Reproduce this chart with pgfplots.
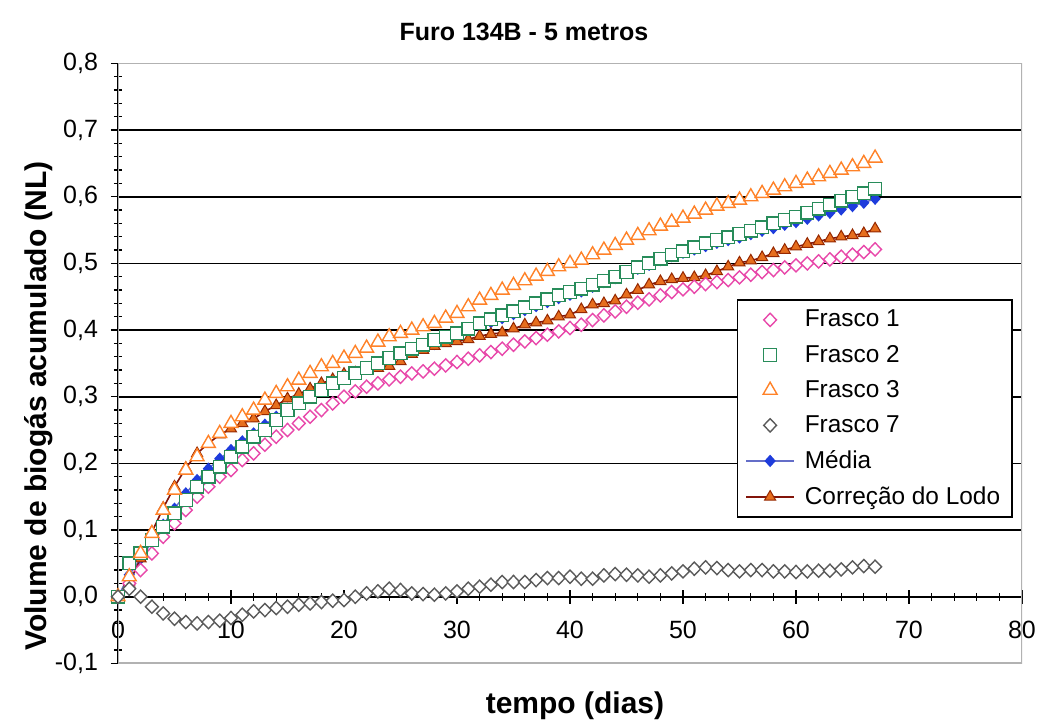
\documentclass[border=0pt]{standalone}
\usepackage{graphicx}
\usepackage{fontspec}
\setmainfont{Liberation Sans}
\usepackage{pgfplots}
\usepackage{pgfplotstable}
\pgfplotsset{compat=1.18}
\definecolor{pinkc}{RGB}{232,72,170}
\definecolor{greenc}{RGB}{40,140,90}
\definecolor{orangec}{RGB}{255,130,40}
\definecolor{grayc}{RGB}{90,90,90}
\definecolor{medmark}{RGB}{30,60,220}
\definecolor{medline}{RGB}{100,110,200}
\definecolor{corline}{RGB}{130,20,10}
\definecolor{cordraw}{RGB}{150,40,0}
\definecolor{corfill}{RGB}{230,110,30}
\pgfplotstableread{
d f1 f2 f3 f7 m c
0 0 0 0 0 0 0
1 0.020 0.050 0.030 0.012 0.033 0.021
2 0.040 0.065 0.065 0.000 0.057 0.057
3 0.065 0.085 0.095 -0.015 0.082 0.097
4 0.090 0.105 0.130 -0.025 0.108 0.133
5 0.110 0.125 0.160 -0.033 0.132 0.165
6 0.130 0.145 0.190 -0.038 0.155 0.193
7 0.150 0.165 0.210 -0.040 0.175 0.215
8 0.165 0.180 0.230 -0.038 0.192 0.230
9 0.180 0.195 0.245 -0.036 0.207 0.243
10 0.190 0.210 0.260 -0.032 0.220 0.252
11 0.205 0.225 0.270 -0.027 0.233 0.260
12 0.215 0.240 0.280 -0.022 0.245 0.267
13 0.228 0.250 0.295 -0.020 0.258 0.278
14 0.240 0.265 0.305 -0.017 0.270 0.287
15 0.250 0.280 0.315 -0.015 0.282 0.297
16 0.260 0.290 0.325 -0.012 0.292 0.304
17 0.270 0.300 0.335 -0.010 0.302 0.312
18 0.280 0.310 0.345 -0.008 0.312 0.320
19 0.290 0.320 0.350 -0.006 0.320 0.326
20 0.300 0.328 0.358 -0.005 0.329 0.334
21 0.308 0.335 0.365 0.000 0.336 0.336
22 0.315 0.343 0.373 0.005 0.344 0.339
23 0.320 0.350 0.382 0.008 0.351 0.343
24 0.326 0.358 0.390 0.012 0.358 0.346
25 0.330 0.365 0.395 0.010 0.363 0.353
26 0.335 0.372 0.400 0.005 0.369 0.364
27 0.338 0.378 0.405 0.004 0.374 0.370
28 0.342 0.385 0.410 0.003 0.379 0.376
29 0.347 0.390 0.418 0.005 0.385 0.380
30 0.352 0.395 0.425 0.008 0.391 0.383
31 0.357 0.402 0.435 0.012 0.398 0.386
32 0.362 0.410 0.445 0.015 0.406 0.391
33 0.367 0.416 0.452 0.018 0.412 0.394
34 0.372 0.422 0.460 0.022 0.418 0.396
35 0.378 0.428 0.467 0.022 0.424 0.402
36 0.383 0.434 0.474 0.022 0.430 0.408
37 0.388 0.440 0.481 0.025 0.436 0.411
38 0.393 0.446 0.488 0.028 0.442 0.414
39 0.398 0.452 0.495 0.028 0.448 0.420
40 0.403 0.457 0.500 0.030 0.453 0.423
41 0.408 0.462 0.505 0.027 0.458 0.431
42 0.415 0.468 0.513 0.027 0.465 0.438
43 0.422 0.474 0.520 0.032 0.472 0.440
44 0.428 0.480 0.527 0.034 0.478 0.444
45 0.435 0.487 0.535 0.033 0.486 0.453
46 0.441 0.494 0.542 0.032 0.492 0.460
47 0.446 0.500 0.549 0.030 0.498 0.468
48 0.452 0.507 0.556 0.032 0.505 0.473
49 0.457 0.513 0.562 0.035 0.511 0.476
50 0.461 0.518 0.568 0.038 0.516 0.478
51 0.465 0.524 0.574 0.042 0.521 0.479
52 0.469 0.530 0.580 0.044 0.526 0.482
53 0.472 0.535 0.586 0.043 0.531 0.488
54 0.475 0.539 0.590 0.040 0.535 0.495
55 0.479 0.544 0.595 0.038 0.539 0.501
56 0.483 0.549 0.600 0.040 0.544 0.504
57 0.487 0.554 0.605 0.040 0.549 0.509
58 0.490 0.560 0.610 0.038 0.553 0.515
59 0.494 0.565 0.615 0.038 0.558 0.520
60 0.497 0.570 0.620 0.037 0.562 0.525
61 0.500 0.576 0.625 0.038 0.567 0.529
62 0.503 0.582 0.630 0.039 0.572 0.533
63 0.506 0.588 0.635 0.039 0.576 0.537
64 0.510 0.594 0.640 0.041 0.581 0.540
65 0.513 0.600 0.645 0.044 0.586 0.542
66 0.517 0.605 0.650 0.046 0.591 0.545
67 0.521 0.612 0.658 0.045 0.597 0.552
}\data
\begin{document}
\begin{tikzpicture}
\pgfplotsset{
  mediastyle/.style={color=medline, line width=0.7pt, mark=diamond*, mark size=2.6pt, mark options={draw=medmark, fill=medmark, solid, xscale=1.2}},
  corstyle/.style={color=corline, line width=0.8pt, mark=triangle*, mark size=3.2pt, mark options={draw=cordraw, fill=corfill, solid, line width=0.5pt}},
}
\begin{axis}[
  scale only axis, width=452pt, height=300pt,
  xmin=0, xmax=80, ymin=-0.1, ymax=0.8,
  axis x line=middle, axis y line=left,
  hide obscured x ticks=false,
  axis line style={-, black, line width=0.8pt},
  xtick={0,10,20,30,40,50,60,70,80},
  ytick={-0.1,0,0.1,0.2,0.3,0.4,0.5,0.6,0.7,0.8},
  minor x tick num=4, minor y tick num=4,
  tick align=center, major tick length=7pt, minor tick length=4pt,
  tick style={black, line width=0.6pt},
  ymajorgrids, grid style={black, line width=0.8pt},
  tick label style={font=\fontsize{12.5}{14}\selectfont},
  yticklabel style={xshift=-3pt, /pgf/number format/.cd, fixed, fixed zerofill, precision=1, use comma, assume math mode=true},
  xticklabel style={yshift=-5pt, /pgf/number format/assume math mode=true},
  every axis title/.style={at={(axis description cs:0.449,1.052)}, anchor=center, font=\bfseries\fontsize{12.5}{15}\selectfont},
  title={Furo 134B - 5 metros},
  every axis x label/.style={at={(axis description cs:0.5055,-0.071)}, anchor=center, font=\bfseries\fontsize{15}{18}\selectfont},
  every axis y label/.style={at={(axis description cs:-0.0874,0.429)}, rotate=90, anchor=center, font=\bfseries\fontsize{15}{18}\selectfont},
  xlabel={tempo (dias)},
  ylabel={Volume de biogás acumulado (NL)},
  legend image code/.code={\draw[mark repeat=2,mark phase=2,#1] plot coordinates {(0cm,0cm) (0.42cm,0cm) (0.84cm,0cm)};},
  legend style={at={(axis description cs:0.99,0.607)}, anchor=north east, draw=black, line width=0.8pt, fill=white, font=\fontsize{12.2}{14.5}\selectfont, row sep=3.6pt, inner xsep=4pt, inner ysep=3pt, cells={anchor=west}, /tikz/every odd column/.append style={column sep=3pt}},
]
\draw[gray!60, line width=0.9pt] (rel axis cs:0,0) rectangle (rel axis cs:1,1);
\coordinate (SW) at (rel axis cs:0,0);
\coordinate (NE) at (rel axis cs:1,1);
\addplot[mediastyle, forget plot] table[x=d, y=m] {\data};
\addplot[corstyle, forget plot] table[x=d, y=c] {\data};
\addplot[only marks, mark=diamond*, mark size=3.3pt, mark options={draw=pinkc, fill=white, line width=0.7pt, xscale=1.3}] table[x=d, y=f1] {\data};
\addlegendentry{Frasco 1}
\addplot[only marks, mark=square*, mark size=3.2pt, mark options={draw=greenc, fill=white, line width=0.7pt}] table[x=d, y=f2] {\data};
\addlegendentry{Frasco 2}
\addplot[only marks, mark=triangle*, mark size=4pt, mark options={draw=orangec, fill=white, line width=0.7pt}] table[x=d, y=f3] {\data};
\addlegendentry{Frasco 3}
\addplot[only marks, mark=diamond*, mark size=3.3pt, mark options={draw=grayc, fill=white, line width=0.7pt, xscale=1.3}] table[x=d, y=f7] {\data};
\addlegendentry{Frasco 7}
\addlegendimage{mediastyle}
\addlegendentry{Média}
\addlegendimage{corstyle}
\addlegendentry{Correção do Lodo}
\end{axis}
\pgfresetboundingbox
\path[use as bounding box] ([shift={(-59pt,-30.8pt)}]SW) rectangle ([shift={(9.5pt,31.7pt)}]NE);
\end{tikzpicture}
\end{document}
